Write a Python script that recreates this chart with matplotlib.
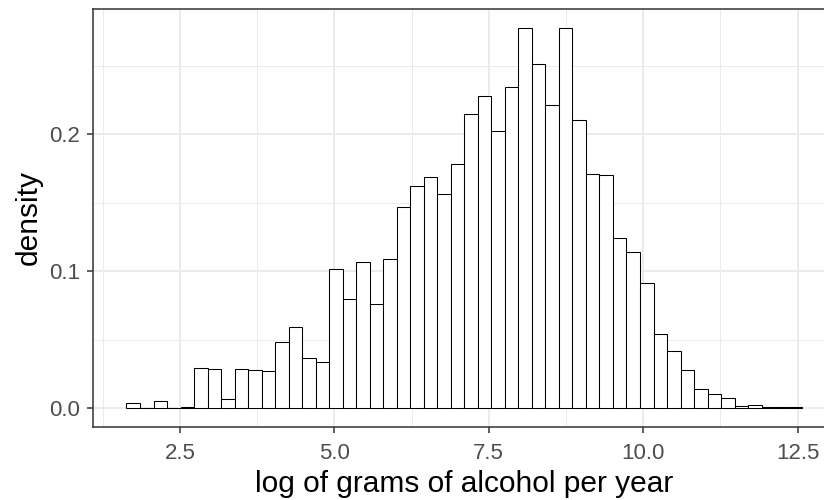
"""Histogram (density) of log grams of alcohol per year, ggplot theme_bw look."""
import numpy as np
import matplotlib
matplotlib.use("Agg")
import matplotlib.pyplot as plt
from matplotlib.ticker import FixedLocator

plt.rcParams["font.family"] = ["Liberation Sans", "DejaVu Sans"]

BIN_START = 1.634      # left edge of first bin
BIN_WIDTH = 0.2188
density = [0.0035, 0.0, 0.0051, 0.0, 0.0009, 0.0292, 0.0285, 0.0066, 0.0282, 0.0277,
           0.0267, 0.0484, 0.0591, 0.0367, 0.0338, 0.1017, 0.0798, 0.1068, 0.0761, 0.1085,
           0.1467, 0.1625, 0.1684, 0.1562, 0.1779, 0.2151, 0.2277, 0.2024, 0.2343, 0.2779,
           0.2511, 0.2214, 0.2779, 0.2107, 0.1710, 0.1701, 0.1239, 0.1141, 0.0912, 0.0538,
           0.0414, 0.0275, 0.0136, 0.0100, 0.0075, 0.0017, 0.0022, 0.0007, 0.0007, 0.0005]
x_ticks = [2.5, 5.0, 7.5, 10.0, 12.5]
x_labels = ["2.5", "5.0", "7.5", "10.0", "12.5"]
x_minor = [1.25, 3.75, 6.25, 8.75, 11.25]
y_ticks = [0.0, 0.1, 0.2]
y_labels = ["0.0", "0.1", "0.2"]
y_minor = [0.05, 0.15, 0.25]

edges = BIN_START + BIN_WIDTH * np.arange(len(density) + 1)

fig = plt.figure(figsize=(8.24, 5.0), dpi=100)
# panel runs past the right edge of the picture, like the reference crop
ax = fig.add_axes([0.1125, 0.146, 0.902, 0.8368])

ax.bar(edges[:-1], density, width=BIN_WIDTH, align="edge", facecolor="white",
       edgecolor="black", linewidth=0.75, zorder=3)

xr = edges[-1] - edges[0]
ax.set_xlim(edges[0] - 0.05 * xr, edges[-1] + 0.05 * xr)
ax.set_ylim(-0.05 * max(density), 1.05 * max(density))

ax.xaxis.set_major_locator(FixedLocator(x_ticks))
ax.xaxis.set_minor_locator(FixedLocator(x_minor))
ax.yaxis.set_major_locator(FixedLocator(y_ticks))
ax.yaxis.set_minor_locator(FixedLocator(y_minor))
ax.set_xticklabels(x_labels)
ax.set_yticklabels(y_labels)

ax.grid(which="major", color="#EBEBEB", lw=1.4, zorder=0)
ax.grid(which="minor", color="#EBEBEB", lw=0.7, zorder=0)
ax.set_axisbelow(True)
for s in ax.spines.values():
    s.set_color("#333333"); s.set_linewidth(1.1)

ax.tick_params(which="major", length=4.5, width=1.1, color="#333333",
               labelcolor="#4D4D4D", labelsize=16)
ax.tick_params(axis="x", which="major", pad=7.0)
ax.tick_params(axis="y", which="major", pad=4.6)
ax.tick_params(which="minor", length=0)

ax.set_xlabel("log of grams of alcohol per year", fontsize=21.5, color="black", labelpad=4)
ax.set_ylabel("density", fontsize=21.5, color="black", labelpad=4.5)

fig.savefig("out.png", dpi=100)
